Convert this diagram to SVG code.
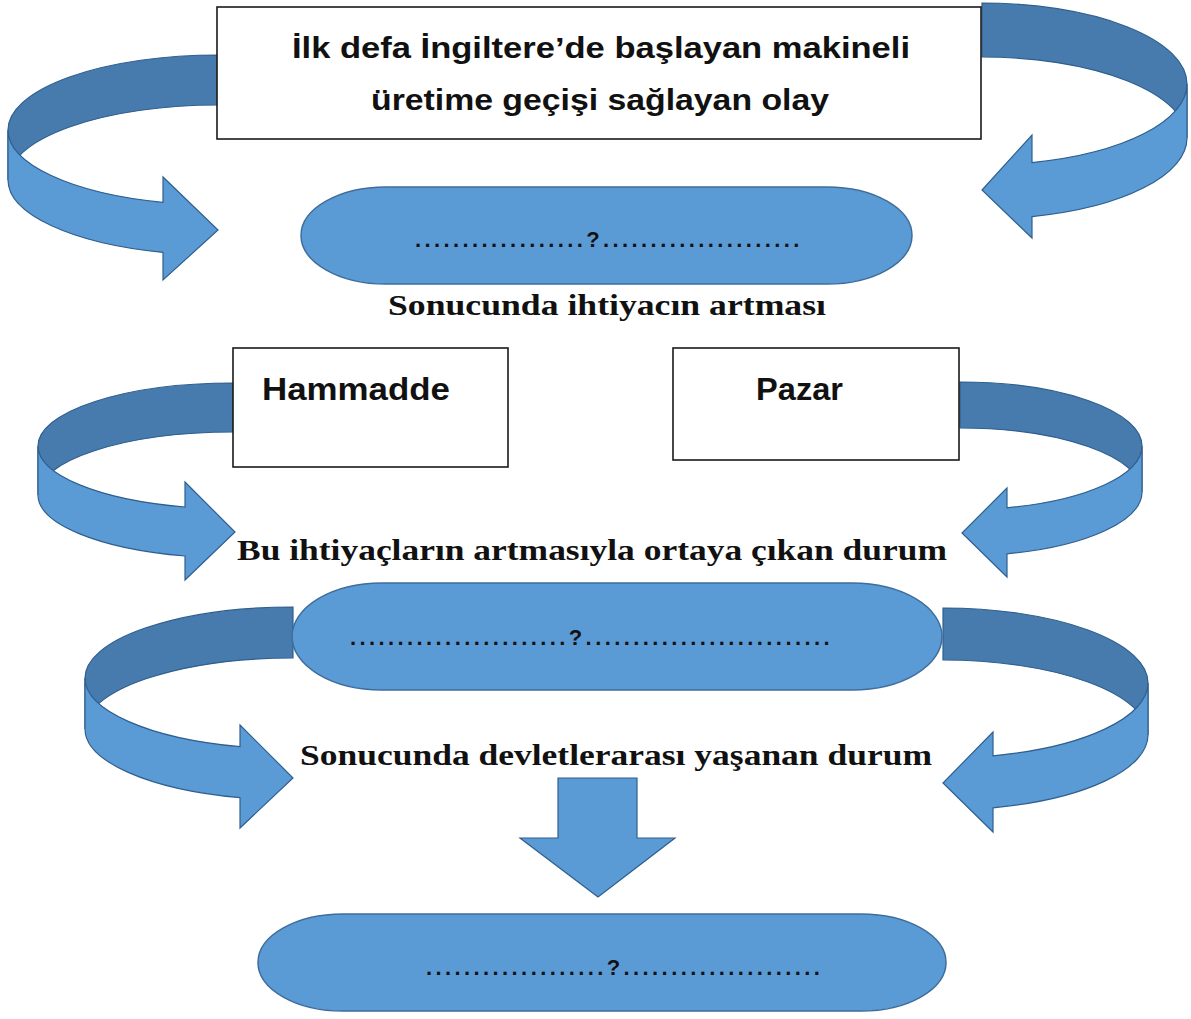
<svg xmlns="http://www.w3.org/2000/svg" width="1191" height="1019" viewBox="0 0 1191 1019">
<style>
.back{fill:#477BAD;stroke:#2F5F8E;stroke-width:1.2}
.front{fill:#5B9BD5;stroke:#2F5F8E;stroke-width:1.2}
.box{fill:#fff;stroke:#1a1a1a;stroke-width:1.6}
.pill{fill:#5B9BD5;stroke:#3E6D9C;stroke-width:1.5}
.sans{font-family:"Liberation Sans",Arial,sans-serif;font-weight:bold;fill:#111}
.serif{font-family:"Liberation Serif","Times New Roman",serif;font-weight:bold;fill:#111}
.dots{font-family:"Liberation Sans",Arial,sans-serif;font-size:22px;font-weight:bold;letter-spacing:3.4px;fill:#111}
</style>
<rect width="1191" height="1019" fill="#fff"/>
<g id="connectors">
  <g id="arrow-top-left">
    <path class="back" d="M218,55 A210,75 0 0 0 8,130 L8,180 A210,75 0 0 1 218,105 Z"/>
    <path class="front" d="M8,130 A210,75 0 0 0 163,202.4 L163,177 L218,230 L163,280 L163,252.4 A210,75 0 0 1 8,180 Z"/>
  </g>
  <g id="arrow-top-right">
    <path class="back" d="M982,3 A205,81 0 0 1 1187,84 L1187,138 A205,81 0 0 0 982,57 Z"/>
    <path class="front" d="M1187,84 A205,81 0 0 1 1032,162.6 L1032,135 L982,190 L1032,238 L1032,216.6 A205,81 0 0 0 1187,138 Z"/>
  </g>
  <g id="arrow-mid-left">
    <path class="back" d="M233,383 A195,63 0 0 0 38,446 L38,495 A195,63 0 0 1 233,432 Z"/>
    <path class="front" d="M38,446 A195,63 0 0 0 185,507 L185,482 L235,532 L185,580 L185,556 A195,63 0 0 1 38,495 Z"/>
  </g>
  <g id="arrow-mid-right">
    <path class="back" d="M960,382 A182,64 0 0 1 1142,446 L1142,492 A182,64 0 0 0 960,428 Z"/>
    <path class="front" d="M1142,446 A182,64 0 0 1 1007,507.8 L1007,488 L962,533 L1007,577 L1007,553.8 A182,64 0 0 0 1142,492 Z"/>
  </g>
  <g id="arrow-low-left">
    <path class="back" d="M293,607 A208,71 0 0 0 85,678 L85,729 A208,71 0 0 1 293,658 Z"/>
    <path class="front" d="M85,678 A208,71 0 0 0 240,746.7 L240,725 L293,778 L240,828 L240,797.7 A208,71 0 0 1 85,729 Z"/>
  </g>
  <g id="arrow-low-right">
    <path class="back" d="M943,608 A205,75 0 0 1 1148,683 L1148,735 A205,75 0 0 0 943,660 Z"/>
    <path class="front" d="M1148,683 A205,75 0 0 1 993,755.8 L993,732 L943,783 L993,832 L993,807.8 A205,75 0 0 0 1148,735 Z"/>
  </g>
  <g id="arrow-down">
    <polygon class="front" points="558,778 637,778 637,838 675,838 598,897 520,838 558,838"/>
  </g>
</g>
<g id="node-top">
  <rect class="box" x="217" y="7" width="764" height="132"/>
  <text class="sans" x="601" y="58" font-size="30" text-anchor="middle" textLength="618" lengthAdjust="spacingAndGlyphs">İlk defa İngiltere’de başlayan makineli</text>
  <text class="sans" x="600" y="110" font-size="30" text-anchor="middle" textLength="458" lengthAdjust="spacingAndGlyphs">üretime geçişi sağlayan olay</text>
</g>
<g id="node-q1">
  <rect class="pill" x="301" y="187" width="611" height="97" rx="85" ry="48.5"/>
  <text class="dots" x="415" y="247">..................?.....................</text>
</g>
<g id="label-1">
  <text class="serif" x="607" y="315" font-size="30" text-anchor="middle" textLength="438" lengthAdjust="spacingAndGlyphs">Sonucunda ihtiyacın artması</text>
</g>
<g id="node-hammadde">
  <rect class="box" x="233" y="348" width="275" height="119"/>
  <text class="sans" x="262" y="400" font-size="32" textLength="188" lengthAdjust="spacingAndGlyphs">Hammadde</text>
</g>
<g id="node-pazar">
  <rect class="box" x="673" y="348" width="286" height="112"/>
  <text class="sans" x="756" y="400" font-size="32" textLength="87" lengthAdjust="spacingAndGlyphs">Pazar</text>
</g>
<g id="label-2">
  <text class="serif" x="592" y="560" font-size="30" text-anchor="middle" textLength="710" lengthAdjust="spacingAndGlyphs">Bu ihtiyaçların artmasıyla ortaya çıkan durum</text>
</g>
<g id="node-q2">
  <rect class="pill" x="292" y="583" width="650" height="107" rx="90" ry="53.5"/>
  <text class="dots" x="350" y="645">.......................?..........................</text>
</g>
<g id="label-3">
  <text class="serif" x="616" y="765" font-size="30" text-anchor="middle" textLength="632" lengthAdjust="spacingAndGlyphs">Sonucunda devletlerarası yaşanan durum</text>
</g>
<g id="node-q3">
  <rect class="pill" x="258" y="914" width="688" height="97" rx="85" ry="48.5"/>
  <text class="dots" x="426" y="975">...................?.....................</text>
</g>
</svg>
